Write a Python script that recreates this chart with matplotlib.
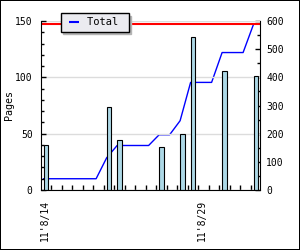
import matplotlib
matplotlib.use("Agg")
import matplotlib.pyplot as plt
from matplotlib.lines import Line2D
from matplotlib.patches import Rectangle
from matplotlib.ticker import MultipleLocator
import numpy as np
import pandas as pd

# pages read per day (days without reading are left out)
dates = ["2011-08-14", "2011-08-20", "2011-08-21", "2011-08-25",
         "2011-08-27", "2011-08-28", "2011-08-31", "2011-09-03"]
pages = [40, 74, 44, 38, 50, 136, 106, 101]
tick_dates = ["2011-08-14", "2011-08-29"]
tick_labels = ["11'8/14", "11'8/29"]
series_name = "Total"
y_label = "Pages"

plt.rcParams["font.family"] = ["DejaVu Sans Mono", "DejaVu Sans"]
plt.rcParams["font.size"] = 7

daily = pd.Series(pages, index=pd.to_datetime(dates)).asfreq("D", fill_value=0)
total = daily.cumsum()
start = daily.index[0]
day_x = np.asarray((daily.index - start).days, dtype=float)
bar_days = np.asarray((pd.to_datetime(dates) - start).days, dtype=float)
tick_x = np.asarray((pd.to_datetime(tick_dates) - start).days, dtype=float)

fig = plt.figure(figsize=(3, 2.5), dpi=100)
fig.patch.set_facecolor("white")
ax = fig.add_axes([41 / 300, 1 - 190 / 250, 219 / 300, 169 / 250])
ax2 = ax.twinx()
ax.set_zorder(ax2.get_zorder() + 1)
ax.patch.set_visible(False)

# cumulative total on the right axis, bars on the left axis
ax2.plot(day_x, total.values, color="blue", lw=1)
ax2.axhline(total.iloc[-1], color="red", lw=1.5)
ax.bar(bar_days + 0.24, pages, width=0.42, color="lightblue",
       edgecolor="black", lw=0.8)

ax.set_xlim(-0.25, 20.61)
ax.set_ylim(0, 150)
ax2.set_ylim(0, 600)

ax.yaxis.set_major_locator(MultipleLocator(50))
ax.yaxis.set_minor_locator(MultipleLocator(10))
ax2.yaxis.set_major_locator(MultipleLocator(100))
ax2.yaxis.set_minor_locator(MultipleLocator(50))
ax.grid(axis="y", color="#dcdcdc", lw=1)
ax.set_axisbelow(True)

ax.set_xticks(tick_x + 0.1, tick_labels, rotation=90)
ax.set_xticks(np.arange(len(day_x) - 1) + 0.74, minor=True)
ax.tick_params(axis="x", which="major", length=0, pad=7)
ax.tick_params(axis="x", which="minor", direction="in", length=3.6, width=1)
ax.tick_params(axis="y", which="major", direction="in", length=3.6, width=1, pad=6)
ax.tick_params(axis="y", which="minor", direction="in", length=2.2, width=1)
ax2.tick_params(axis="y", which="major", direction="in", length=3.6, width=1, pad=4.5)
ax2.tick_params(axis="y", which="minor", direction="in", length=2.2, width=1)

for a in (ax, ax2):
    a.spines["top"].set_visible(False)
ax.spines["right"].set_visible(False)
ax2.spines["left"].set_visible(False)
ax2.spines["bottom"].set_visible(False)

fig.text(9 / 300, 1 - 105.5 / 250, y_label, rotation=90, ha="center",
         va="center", fontsize=7.2)

handle = Line2D([], [], color="blue", marker="_", linestyle="none",
                markersize=6.5, markeredgewidth=1.5)
leg = fig.legend([handle], [series_name + " "], loc="upper left",
                 bbox_to_anchor=(60.7 / 300, 1 - 13.3 / 250),
                 borderaxespad=0, fancybox=False, framealpha=1,
                 facecolor="#ebebf0", edgecolor="black", fontsize=7.5,
                 handlelength=1.7, handletextpad=0.42, borderpad=0.4,
                 shadow={"color": "#b4b4b4", "alpha": 1})
leg.get_frame().set_linewidth(1)

fig.patches.append(Rectangle((0, 0), 1, 1, transform=fig.transFigure,
                             fill=False, edgecolor="black", lw=1.44))

fig.savefig("out.png", dpi=100)
